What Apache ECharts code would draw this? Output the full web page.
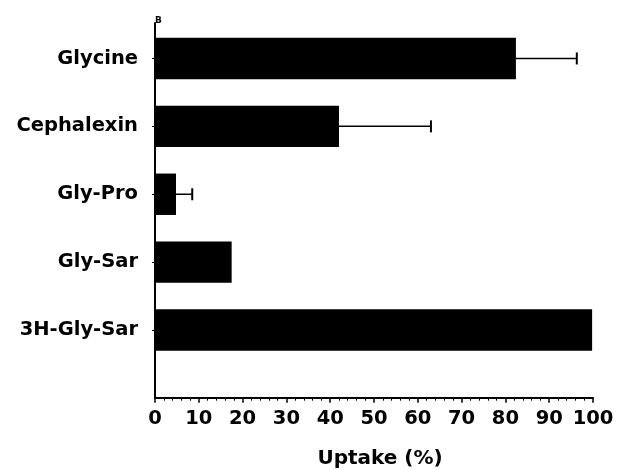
<!DOCTYPE html>
<html>
<head>
<meta charset="utf-8">
<script src="https://cdn.jsdelivr.net/npm/echarts@6/dist/echarts.min.js"></script>
<style>html,body{margin:0;padding:0;background:#fff;}#c{width:621px;height:470px;}</style>
</head>
<body>
<div id="c"></div>
<script>
const categories = ['Glycine', 'Cephalexin', 'Gly-Pro', 'Gly-Sar', '3H-Gly-Sar'];
const uptake = [82.4, 42.0, 4.8, 17.5, 99.8];
const errorUpper = [96.3, 63.0, 8.5, null, null];
const xTicks = [0, 10, 20, 30, 40, 50, 60, 70, 80, 90, 100];

const FONT = 'DejaVu Sans';
const chart = echarts.init(document.getElementById('c'), null, {renderer: 'canvas'});

const errData = categories.map((c, i) => errorUpper[i] == null ? null : [uptake[i], errorUpper[i], i]).filter(d => d);

chart.setOption({
  animation: false,
  backgroundColor: '#fff',
  title: {
    text: 'B', left: 150, top: 11,
    textStyle: {fontFamily: FONT, fontWeight: 'bold', fontSize: 9, color: '#000'}
  },
  grid: [
    {left: 155, right: 28, top: 24.5, height: 339.5, outerBoundsMode: 'none', containLabel: false},
    {left: 155, right: 28, top: 23, height: 374.7, outerBoundsMode: 'none', containLabel: false}
  ],
  xAxis: [
    {gridIndex: 0, type: 'value', min: xTicks[0], max: xTicks[xTicks.length - 1], show: false},
    {
      gridIndex: 1, type: 'value', min: xTicks[0], max: xTicks[xTicks.length - 1], interval: 10,
      name: 'Uptake (%)', nameLocation: 'middle', nameGap: 51,
      nameTextStyle: {fontFamily: FONT, fontWeight: 'bold', fontSize: 20, color: '#000', padding: [0, 0, 0, 12]},
      axisLine: {show: true, lineStyle: {color: '#000', width: 2}},
      axisTick: {show: true, length: 5, lineStyle: {color: '#000', width: 1.5}},
      minorTick: {show: true, splitNumber: 5, length: 3, lineStyle: {color: '#000', width: 1}},
      splitLine: {show: false},
      axisLabel: {fontFamily: FONT, fontWeight: 'bold', fontSize: 19.5, color: '#000', margin: 11}
    }
  ],
  yAxis: [
    {
      gridIndex: 0, type: 'category', data: categories, inverse: true,
      axisLine: {show: false},
      axisTick: {show: true, alignWithLabel: true, length: 3, lineStyle: {color: '#000', width: 1}},
      axisLabel: {fontFamily: FONT, fontWeight: 'bold', fontSize: 19.5, color: '#000', margin: 17}
    },
    {
      gridIndex: 1, type: 'value', min: 0, max: 1,
      axisLine: {show: true, onZero: false, lineStyle: {color: '#000', width: 2}},
      axisTick: {show: false}, axisLabel: {show: false}, splitLine: {show: false}
    }
  ],
  series: [
    {
      type: 'bar', xAxisIndex: 0, yAxisIndex: 0, data: uptake,
      barWidth: '61%', itemStyle: {color: '#000'}, silent: true
    },
    {
      type: 'custom', xAxisIndex: 0, yAxisIndex: 0, data: errData, silent: true, z: 3,
      renderItem: function (params, api) {
        const lo = api.coord([api.value(0), api.value(2)]);
        const hi = api.coord([api.value(1), api.value(2)]);
        const cap = 6;
        return {
          type: 'group',
          children: [
            {type: 'line', shape: {x1: lo[0], y1: lo[1], x2: hi[0], y2: hi[1]}, style: {stroke: '#000', lineWidth: 1.5}},
            {type: 'line', shape: {x1: hi[0], y1: hi[1] - cap, x2: hi[0], y2: hi[1] + cap}, style: {stroke: '#000', lineWidth: 2}}
          ]
        };
      }
    }
  ]
});
</script>
</body>
</html>
